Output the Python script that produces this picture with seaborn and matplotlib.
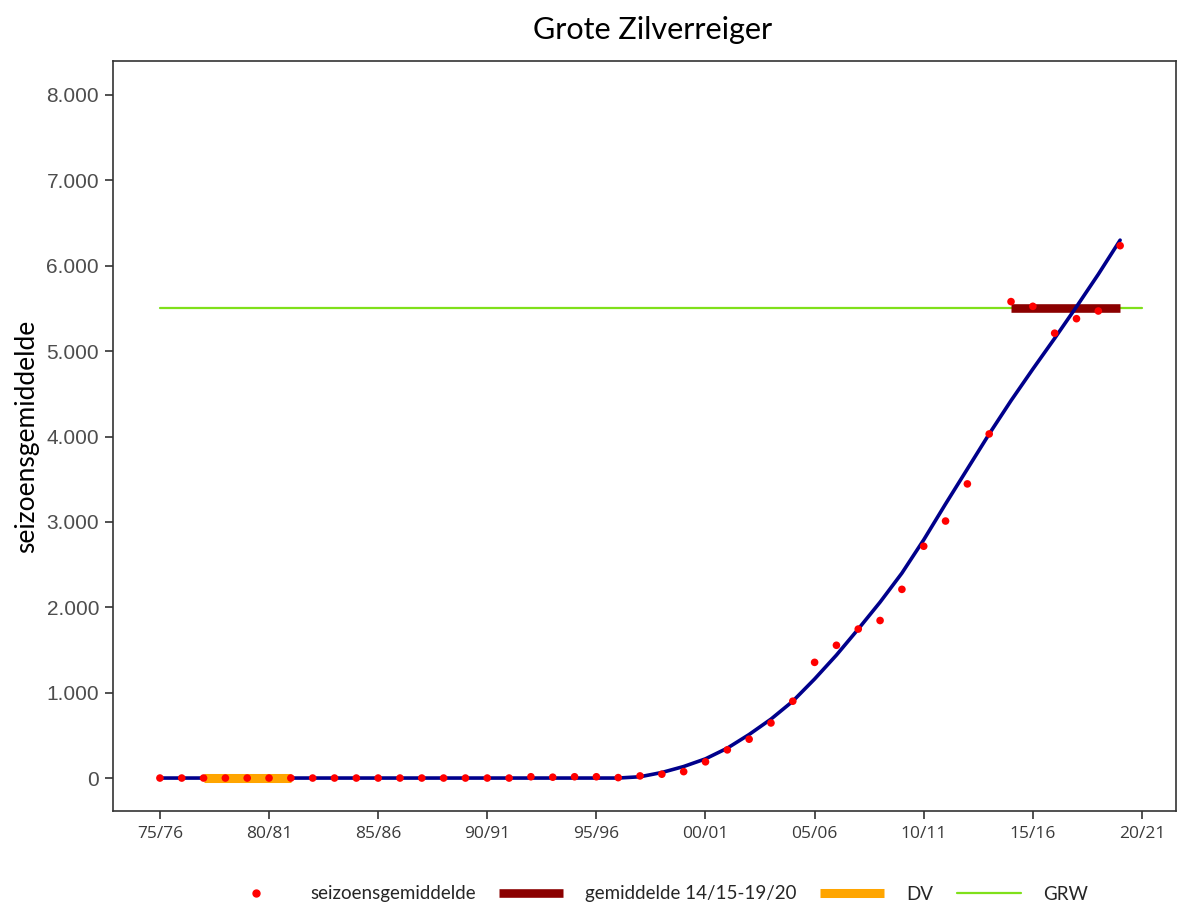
import matplotlib
matplotlib.use("Agg")
import matplotlib.pyplot as plt
import numpy as np
import pandas as pd
import seaborn as sns
from matplotlib.lines import Line2D
from matplotlib.ticker import FuncFormatter

# seasons 75/76 .. 19/20 (index 0..44)
season_labels = [f"{(75 + i) % 100:02d}/{(76 + i) % 100:02d}" for i in range(45)]
tick_labels = ["75/76", "80/81", "85/86", "90/91", "95/96", "00/01", "05/06", "10/11", "15/16", "20/21"]

season_mean = [
    0, 0, 0, 0, 0, 0, 0, 0, 0, 0,
    0, 0, 0, 0, 0, 0, 0, 15, 10, 15,
    15, 5, 25, 45, 75, 190, 330, 455, 645, 900,
    1355, 1555, 1745, 1845, 2210, 2715, 3010, 3445, 4030, 5580,
    5525, 5210, 5380, 5470, 6235,
]
trend = [
    0, 0, 0, 0, 0, 0, 0, 0, 0, 0,
    0, 0, 0, 0, 0, 0, 0, 0, 0, 0,
    0, 0, 15, 65, 135, 225, 350, 510, 690, 900,
    1160, 1440, 1745, 2060, 2400, 2790, 3210, 3620, 4030, 4420,
    4790, 5150, 5520, 5900, 6300,
]

grw_value = 5500
grw_span = [0, 45]
recent_mean = 5500
recent_span = [39, 44]
dv_value = 0
dv_span = [2, 6]

df = pd.DataFrame({"idx": np.arange(len(season_mean)), "season": season_labels,
                   "mean": season_mean, "trend": trend})

sns.set_theme(style="white")
plt.rcParams["font.family"] = ["Liberation Sans", "DejaVu Sans"]

fig = plt.figure(figsize=(11.77, 9.08), dpi=100)
ax = fig.add_axes([113 / 1177, 1 - 811 / 908, 1063 / 1177, 750 / 908])

# drawing order as in the reference: GRW, recent mean, trend, DV, season means
ax.plot(grw_span, [grw_value, grw_value], color="#7fe01a", lw=1.6, zorder=1)
ax.plot(recent_span, [recent_mean, recent_mean], color="#8b0000", lw=6.2, solid_capstyle="butt", zorder=2)
sns.lineplot(data=df, x="idx", y="trend", color="#00008b", lw=2.6, ax=ax, zorder=3)
ax.plot(dv_span, [dv_value, dv_value], color="#ffa500", lw=6.5, solid_capstyle="butt", zorder=4)
sns.scatterplot(data=df, x="idx", y="mean", color="red", s=30, edgecolor="none", ax=ax, zorder=5)

ax.set_xlim(-2.15, 46.56)
ax.set_ylim(-386, 8398)
ax.set_xticks(np.arange(0, 46, 5))
ax.set_xticklabels(tick_labels, fontsize=12.5, color="#3a3a3a", family=["Open Sans", "DejaVu Sans"])
ax.set_yticks(np.arange(0, 8001, 1000))
ax.yaxis.set_major_formatter(FuncFormatter(lambda v, p: f"{int(v):,}".replace(",", ".")))
ax.tick_params(axis="y", labelsize=15, labelcolor="#4d4d4d", length=6, width=1.2, color="#333333",
               left=True, pad=4)
ax.tick_params(axis="x", length=6, width=1.2, color="#333333", bottom=True, pad=5)
for sp in ax.spines.values():
    sp.set_color("#333333")
    sp.set_linewidth(1.2)

ax.set_xlabel("")
ax.set_ylabel("seizoensgemiddelde", fontsize=19, family=["Lato", "DejaVu Sans"], labelpad=5, color="black")
fig.text(653 / 1177, 1 - 30 / 908, "Grote Zilverreiger", fontsize=22, family=["Lato", "DejaVu Sans"],
         ha="center", va="center", color="black")

handles = [
    Line2D([], [], color="red", marker="o", ls="none", markersize=5),
    Line2D([], [], color="#8b0000", lw=6.2, solid_capstyle="butt"),
    Line2D([], [], color="#ffa500", lw=6.5, solid_capstyle="butt"),
    Line2D([], [], color="#7fe01a", lw=1.6),
]
labels = ["seizoensgemiddelde", "gemiddelde 14/15-19/20", "DV", "GRW"]
fig.legend(handles, labels, loc="center", bbox_to_anchor=(656 / 1177, 1 - 894 / 908), ncol=4,
           frameon=False, prop={"family": ["Lato", "DejaVu Sans"], "size": 13.5},
           handlelength=3.4, handletextpad=1.2, columnspacing=1.25, borderpad=0.2)

fig.savefig("out.png", dpi=100)
